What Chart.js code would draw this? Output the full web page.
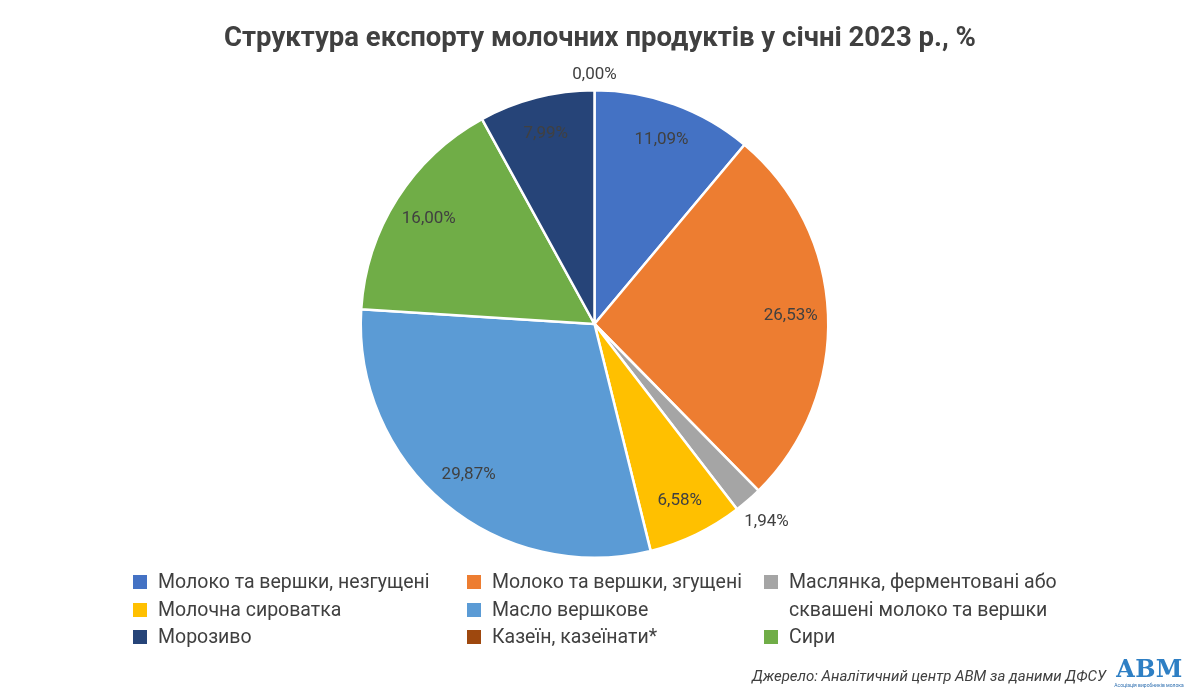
<!DOCTYPE html>
<html>
<head>
<meta charset="utf-8">
<script src="https://cdn.jsdelivr.net/npm/chart.js@4"></script>
<style>
    body { margin: 0; background: #fff; font-family: Roboto, sans-serif; }
    #wrap { position: relative; width: 1200px; height: 700px; }
    #pieChart { position: absolute; left: 0; top: 0; }
    #title { position: absolute; top: 20px; left: 0; width: 1200px; text-align: center;
             font-size: 27.5px; font-weight: bold; color: #404040; }
    #legend { position: absolute; left: 133px; top: 568px; display: grid;
              grid-template-columns: 334px 297px 300px; row-gap: 0; }
    .item { display: flex; align-items: flex-start; font-size: 19.5px; color: #404040; line-height: 27.5px; }
    .item span.box { width: 14px; height: 14px; margin: 7px 11px 0 0; flex: none; }
    #source { position: absolute; left: 752px; top: 667px; font-size: 15px; font-style: italic; color: #404040; }
    #logo { position: absolute; left: 1114px; top: 656px; width: 70px; text-align: center; }
    #logo .big { font-family: 'DejaVu Serif', serif; font-weight: bold; font-size: 24px; color: #2e7fc4; line-height: 26px; }
    #logo .small { font-size: 5px; color: #2e6fb0; line-height: 6px; }
</style>
</head>
<body>
<div id="wrap">
    <canvas id="pieChart" width="1200" height="700"></canvas>
    <div id="title">Структура експорту молочних продуктів у січні 2023 р., %</div>
    <div id="legend"></div>
    <div id="source">Джерело: Аналітичний центр АВМ за даними ДФСУ</div>
    <div id="logo"><div class="big">АВМ</div><div class="small">Асоціація виробників молока</div></div>
</div>
<script>
// slices, in clockwise order from the top
const sliceLabels = [
    'Молоко та вершки, незгущені',
    'Молоко та вершки, згущені',
    'Маслянка, ферментовані або сквашені молоко та вершки',
    'Молочна сироватка',
    'Масло вершкове',
    'Сири',
    'Морозиво',
    'Казеїн, казеїнати*'
];
const sliceValues = [11.09, 26.53, 1.94, 6.58, 29.87, 16.00, 7.99, 0.00];
const sliceColors = ['#4472C4', '#ED7D31', '#A5A5A5', '#FFC000', '#5B9BD5', '#70AD47', '#264478', '#9E480E'];

// legend order (row by row, 3 columns)
const legendOrder = [0, 1, 2, 3, 4, 6, 7, 5];

const legendEl = document.getElementById('legend');
legendOrder.forEach(i => {
    const div = document.createElement('div');
    div.className = 'item';
    let text = sliceLabels[i];
    if (i === 2) {
        text = 'Маслянка, ферментовані або<br>сквашені молоко та вершки';
        div.style.gridRow = 'span 2';
    }
    div.innerHTML = '<span class="box" style="background:' + sliceColors[i] + '"></span><span>' + text + '</span>';
    legendEl.appendChild(div);
});

// percentage labels on the slices
const sliceLabelPlugin = {
    id: 'sliceLabels',
    afterDatasetsDraw(chart) {
        const ctx = chart.ctx;
        const meta = chart.getDatasetMeta(0);
        ctx.save();
        ctx.font = '17px Roboto';
        ctx.fillStyle = '#404040';
        ctx.textAlign = 'center';
        ctx.textBaseline = 'middle';
        meta.data.forEach((arc, i) => {
            const v = sliceValues[i];
            const mid = (arc.startAngle + arc.endAngle) / 2;
            let r = arc.outerRadius * 0.84;
            if (v < 3) r = arc.outerRadius + (v === 0 ? 16 : 28);
            const x = arc.x + Math.cos(mid) * r;
            const y = arc.y + Math.sin(mid) * r;
            ctx.fillText(v.toFixed(2).replace('.', ',') + '%', x, y);
        });
        ctx.restore();
    }
};

new Chart(document.getElementById('pieChart').getContext('2d'), {
    type: 'pie',
    data: {
        labels: sliceLabels,
        datasets: [{
            data: sliceValues,
            backgroundColor: sliceColors,
            borderColor: '#ffffff',
            borderWidth: 2.5
        }]
    },
    options: {
        responsive: false,
        animation: false,
        layout: { padding: { top: 89, bottom: 141, left: 0, right: 11 } },
        plugins: {
            legend: { display: false },
            tooltip: { enabled: false }
        }
    },
    plugins: [sliceLabelPlugin]
});
</script>
</body>
</html>
